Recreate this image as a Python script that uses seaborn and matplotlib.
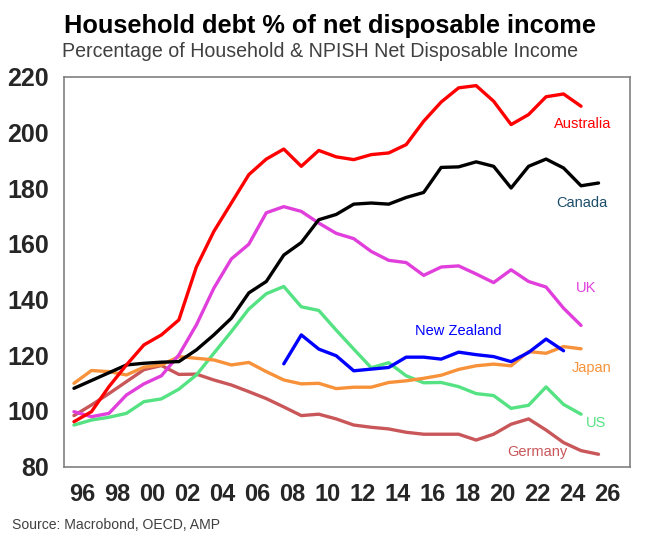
import numpy as np
import pandas as pd
import matplotlib
matplotlib.use("Agg")
import matplotlib.pyplot as plt
import seaborn as sns

# ---- data (annual, plotted at mid-year) ----
start_main = 1995.5
start_nz = 2007.5
australia = [96.1, 99.7, 108.7, 116.5, 123.7, 127.3, 132.7, 151.7, 164.5, 174.7,
             184.9, 190.5, 194.1, 187.9, 193.6, 191.3, 190.3, 192.1, 192.7, 195.7,
             204.1, 211.0, 216.1, 216.9, 211.3, 202.9, 206.5, 212.9, 213.9, 209.5]
canada = [108.1, 110.9, 113.7, 116.5, 117.1, 117.5, 117.7, 121.9, 127.3, 133.3,
          142.4, 146.5, 156.0, 160.5, 168.7, 170.6, 174.3, 174.7, 174.3, 176.7,
          178.5, 187.5, 187.7, 189.5, 187.9, 180.1, 187.9, 190.5, 187.3, 180.9, 181.9]
uk = [99.7, 97.9, 99.1, 105.7, 109.7, 112.6, 120.1, 130.9, 144.1, 154.6,
      159.9, 171.2, 173.4, 171.7, 167.5, 163.8, 161.9, 157.3, 154.1, 153.3,
      148.7, 151.7, 152.1, 149.2, 146.1, 150.7, 146.5, 144.5, 136.9, 130.7]
us = [94.9, 96.7, 97.7, 99.1, 103.3, 104.3, 107.8, 112.9, 120.7, 128.5,
      136.6, 142.1, 144.7, 137.4, 136.1, 129.0, 122.2, 115.5, 117.3, 112.6,
      110.1, 110.2, 108.7, 106.2, 105.5, 100.9, 102.0, 108.6, 102.3, 98.8]
japan = [109.9, 114.5, 114.1, 112.9, 115.7, 116.5, 119.5, 118.9, 118.3, 116.5,
         117.4, 114.1, 111.1, 109.7, 109.9, 108.0, 108.5, 108.5, 110.2, 110.8,
         111.7, 112.8, 114.9, 116.2, 116.8, 116.2, 121.3, 120.7, 123.1, 122.3]
germany = [98.3, 102.1, 106.2, 110.5, 114.8, 116.3, 113.1, 113.2, 111.1, 109.3,
           106.9, 104.4, 101.4, 98.3, 98.8, 97.1, 94.9, 94.1, 93.5, 92.3,
           91.6, 91.6, 91.6, 89.5, 91.6, 95.2, 97.1, 93.1, 88.6, 85.7, 84.4]
new_zealand = [116.9, 127.3, 122.2, 119.8, 114.4, 115.0, 115.6, 119.3, 119.3,
               118.6, 121.1, 120.2, 119.5, 117.7, 121.0, 125.8, 121.6]

series_names = ["Germany", "US", "Japan", "UK", "Canada", "New Zealand", "Australia"]
series_values = [germany, us, japan, uk, canada, new_zealand, australia]
series_starts = [start_main, start_main, start_main, start_main, start_main, start_nz, start_main]

x_ticks = list(range(1996, 2027, 2))
x_tick_labels = ["96", "98", "00", "02", "04", "06", "08", "10", "12", "14",
                 "16", "18", "20", "22", "24", "26"]
y_ticks = [80, 100, 120, 140, 160, 180, 200, 220]

colors = {
    "Australia": "#FF0000",
    "Canada": "#000000",
    "UK": "#E03FDB",
    "New Zealand": "#0000FF",
    "Japan": "#F7923A",
    "US": "#55E283",
    "Germany": "#C9575A",
}
label_colors = dict(colors)
label_colors["Canada"] = "#1C4E6B"

rows = []
for name, vals, st in zip(series_names, series_values, series_starts):
    for i, v in enumerate(vals):
        rows.append({"year": st + i, "value": v, "country": name})
df = pd.DataFrame(rows)

sns.set_style("white")
plt.rcParams["font.family"] = ["Liberation Sans", "DejaVu Sans"]

fig = plt.figure(figsize=(6.57, 5.48), dpi=100)
ax = fig.add_axes([64 / 657, (548 - 466.5) / 548, (630 - 64) / 657, (466.5 - 77) / 548])

sns.lineplot(data=df, x="year", y="value", hue="country", hue_order=series_names,
             palette=colors, linewidth=2.4, ax=ax, legend=False, sort=True)

ax.set_xlim(1994.93, 2027.3)
ax.set_ylim(80, 220)
ax.set_xticks(x_ticks)
ax.set_xticklabels(x_tick_labels, fontsize=17, fontweight="bold")
ax.set_yticks(y_ticks)
ax.set_yticklabels([str(v) for v in y_ticks], fontsize=18, fontweight="bold")
ax.tick_params(axis="x", direction="in", length=5, width=1, color="#808080", pad=12)
ax.tick_params(axis="y", direction="out", length=5, width=1, color="#404040", pad=6)
ax.set_xlabel("")
ax.set_ylabel("")
for s in ax.spines.values():
    s.set_visible(True)
    s.set_color("#808080")
    s.set_linewidth(1.2)

labels = [
    ("Australia", 2024.59, 203.2),
    ("Canada", 2024.55, 174.8),
    ("UK", 2024.8, 144.2),
    ("New Zealand", 2017.5, 128.6),
    ("Japan", 2025.1, 115.4),
    ("US", 2025.35, 95.5),
    ("Germany", 2022.0, 85.2),
]
for name, lx, ly in labels:
    ax.text(lx, ly, name, color=label_colors[name], fontsize=10.5,
            ha="center", va="center")

fig.text(0.502, 1 - 33 / 548, "Household debt % of net disposable income",
         ha="center", va="baseline", fontsize=18.3, fontweight="bold", color="#000000")
fig.text(0.487, 1 - 57 / 548, "Percentage of Household & NPISH Net Disposable Income",
         ha="center", va="baseline", fontsize=14.1, color="#404040")
fig.text(12 / 657, 1 - 529 / 548, "Source: Macrobond, OECD, AMP",
         ha="left", va="baseline", fontsize=10.1, color="#404040")

fig.savefig("out.png", dpi=100)
